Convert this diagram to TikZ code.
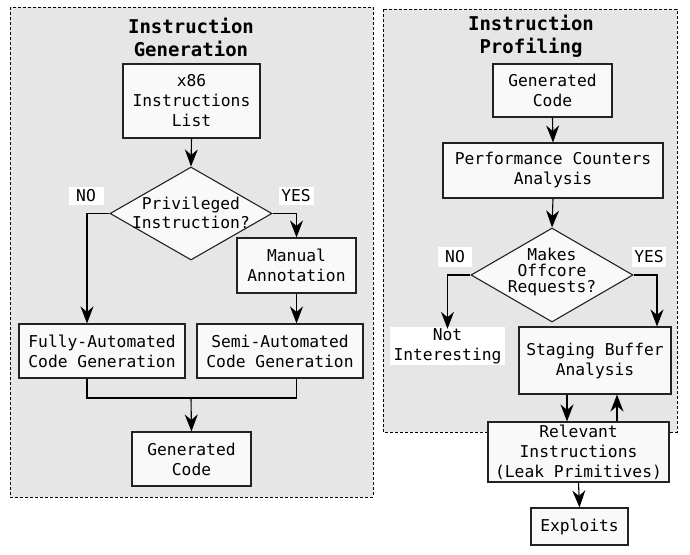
\documentclass[tikz,border=0pt]{standalone}
\usepackage{fontspec}
\setmainfont{DejaVu Sans Mono}
\usetikzlibrary{shapes.geometric,arrows.meta}
\definecolor{panelfill}{HTML}{E6E6E6}
\definecolor{boxfill}{HTML}{F9F9F9}
\definecolor{edge}{HTML}{222222}
\begin{document}
\begin{tikzpicture}[x=1pt,y=-1pt,
  txt/.style={font=\fontsize{16.3}{20}\selectfont, align=center, inner sep=0pt},
  box/.style={txt, draw=edge, fill=boxfill, line width=1.1pt},
  decision/.style={diamond, draw=edge, fill=boxfill, line width=1.1pt, inner sep=0pt},
  tag/.style={txt, fill=white},
  title/.style={font=\fontsize{19}{23}\selectfont\bfseries, align=center, inner sep=0pt},
  panel/.style={draw=black, fill=panelfill, line width=0.8pt, dash pattern=on 3pt off 2pt},
  flow/.style={draw=black, line width=1.1pt, -{Stealth[length=17pt,width=13pt,inset=5.5pt]}},
  wire/.style={draw=black, line width=1.1pt}]
\useasboundingbox (0,0) rectangle (690,554);

% panels
\path[panel] (10,7) rectangle (373,497);
\path[panel] (383,9) rectangle (677,432);
\node[title] (t1) at (191,37) {Instruction\\Generation};
\node[title] (t2) at (531,36) {Instruction\\Profiling};

% generation stage
\node[box, minimum width=137, minimum height=74] (list) at (191.5,101) {x86\\Instructions\\List};
\node[decision, minimum width=162, minimum height=93] (priv) at (191,213.5) {};
\node[txt, font=\fontsize{16.3}{19}\selectfont] (privtxt) at (191,212.5) {Privileged\\Instruction?};
\node[tag, minimum width=35, minimum height=18] (no1) at (86,196) {NO};
\node[tag, minimum width=35, minimum height=18] (yes1) at (296,196) {YES};
\node[box, minimum width=119, minimum height=55] (manual) at (296.5,265.5) {Manual\\Annotation};
\node[box, minimum width=166, minimum height=54] (fully) at (102,351) {Fully-Automated\\Code Generation};
\node[box, minimum width=166, minimum height=54] (semi) at (280,351) {Semi-Automated\\Code Generation};
\node[box, minimum width=119, minimum height=54] (gen1) at (191.5,459) {Generated\\Code};
\coordinate (join) at (191,398);

\draw[flow] (list.south) -- (priv.north);
\draw[flow] (priv.west) -| ([xshift=-15pt]fully.north);
\draw[flow] (priv.east) -| (manual.north);
\draw[flow] (manual.south) -- (manual.south |- semi.north);
\draw[wire] ([xshift=-15pt]fully.south) |- (join) -| (manual.south |- semi.south);
\draw[flow] (join) -- (gen1.north);

% profiling stage
\node[box, minimum width=119, minimum height=53] (gen2) at (552.5,90.5) {Generated\\Code};
\node[box, minimum width=220, minimum height=55] (perf) at (553,170.5) {Performance Counters\\Analysis};
\node[decision, minimum width=162, minimum height=94] (offc) at (552,275) {};
\node[txt, font=\fontsize{16.3}{16}\selectfont] (offctxt) at (552,272) {Makes\\Offcore\\Requests?};
\node[tag, minimum width=34, minimum height=20] (no2) at (455,257) {NO};
\node[tag, minimum width=34, minimum height=20] (yes2) at (649,257) {YES};
\node[tag, minimum width=115, minimum height=38] (notint) at (447.5,346) {Not\\Interesting};
\node[box, minimum width=152, minimum height=67] (stage) at (595,360.5) {Staging Buffer\\Analysis};
\node[box, minimum width=181, minimum height=60] (rel) at (578.5,452) {Relevant\\Instructions\\(Leak Primitives)};
\node[box, minimum width=97, minimum height=37] (expl) at (579.5,526.5) {Exploits};

\draw[flow] (gen2.south) -- (perf.north);
\draw[flow] (perf.south) -- (offc.north);
\draw[flow] (offc.west) -| ([yshift=-2pt]notint.north);
\draw[flow] (offc.east) -| ([xshift=62pt]stage.north);
\draw[flow] ([xshift=-28pt]stage.south) -- ([xshift=-28pt]stage.south |- rel.north);
\draw[flow] ([xshift=22pt]stage.south |- rel.north) -- ([xshift=22pt]stage.south);
\draw[flow] (rel.south) -- (expl.north);
\end{tikzpicture}
\end{document}
